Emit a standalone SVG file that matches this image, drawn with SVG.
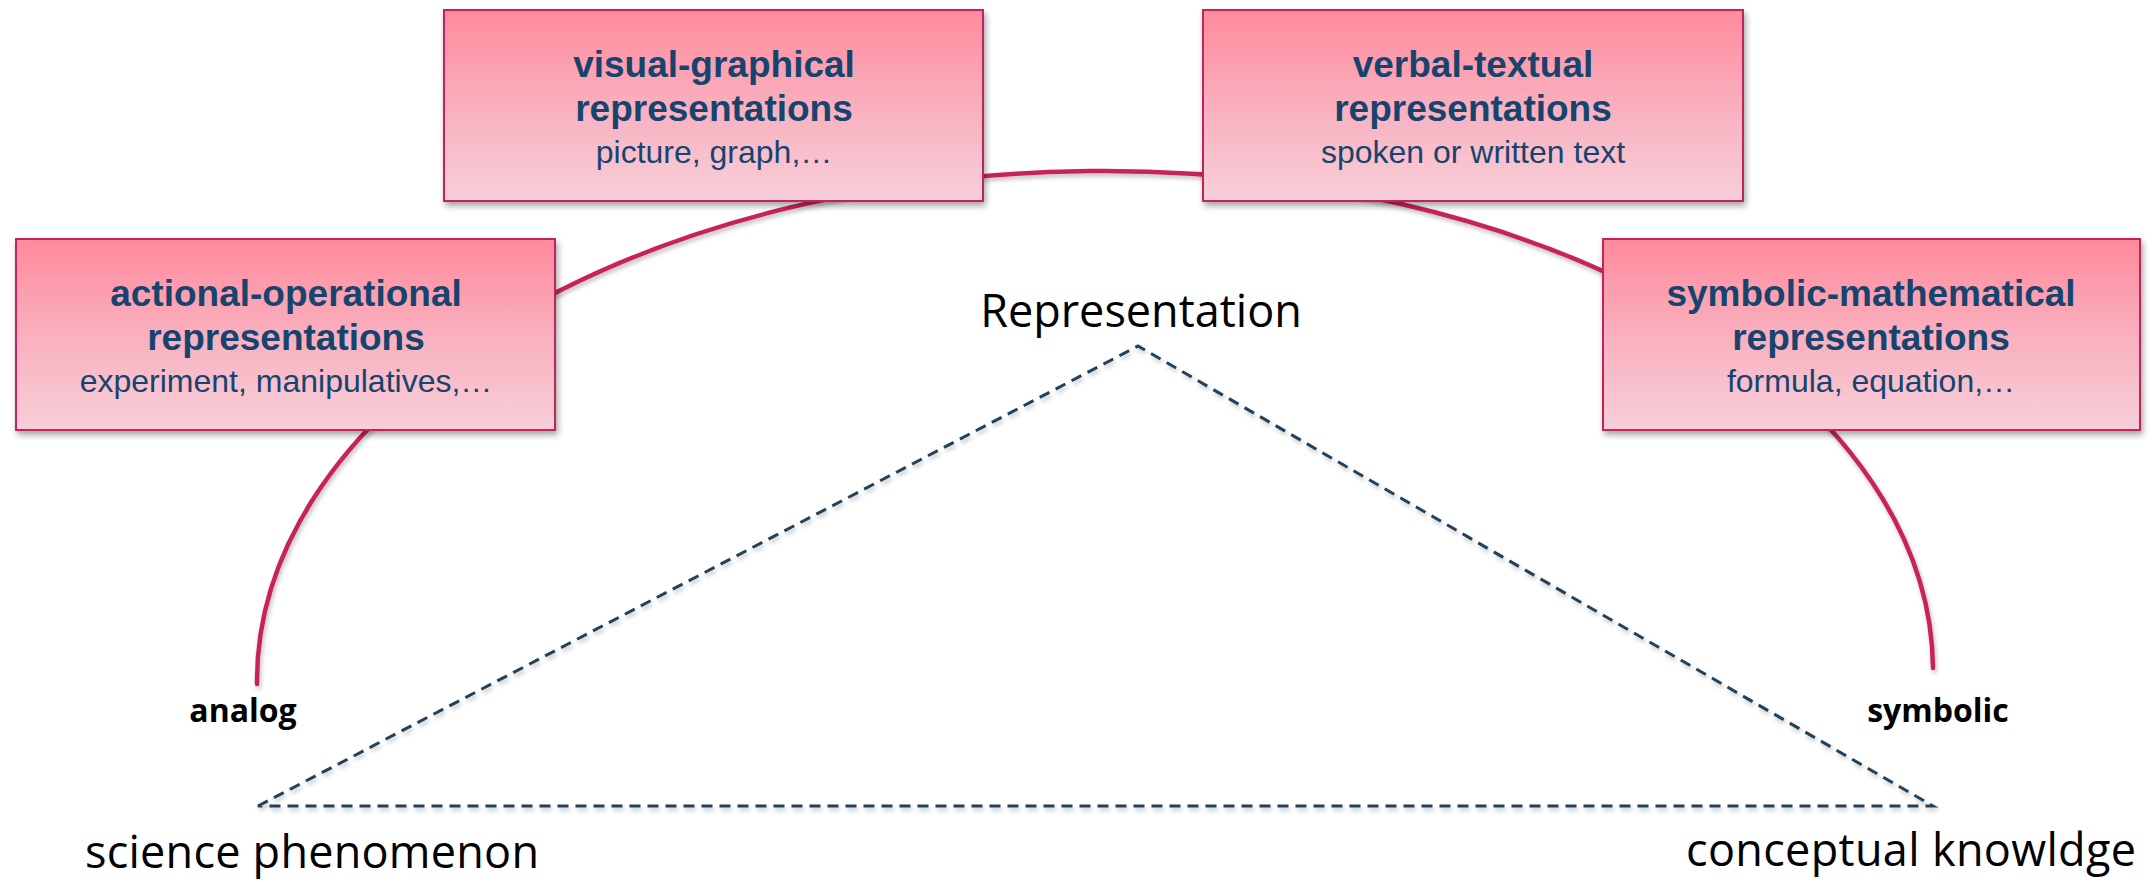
<svg xmlns="http://www.w3.org/2000/svg" width="2155" height="882" viewBox="0 0 2155 882">
  <defs>
    <linearGradient id="boxFill" x1="0" y1="0" x2="0" y2="1">
      <stop offset="0" stop-color="#FF8A9C"/>
      <stop offset="0.5" stop-color="#F9AFBE"/>
      <stop offset="1" stop-color="#F7CFD9"/>
    </linearGradient>
    <filter id="boxShadow" x="-5%" y="-10%" width="112%" height="125%">
      <feDropShadow dx="2" dy="4" stdDeviation="3" flood-color="#000" flood-opacity="0.35"/>
    </filter>
    <filter id="lineShadow" x="-5%" y="-5%" width="110%" height="115%">
      <feDropShadow dx="1.5" dy="3" stdDeviation="2" flood-color="#000" flood-opacity="0.25"/>
    </filter>
    <style>
      .box { fill: url(#boxFill); stroke: #C4245A; stroke-width: 2; filter: url(#boxShadow); }
      .title { font-family: "Liberation Sans", Arial, sans-serif; font-weight: bold; font-size: 37px; fill: #17446E; text-anchor: middle; }
      .sub { font-family: "Liberation Sans", Arial, sans-serif; font-size: 32px; fill: #17446E; text-anchor: middle; }
      .arc { fill: none; stroke: #C8235A; stroke-width: 4.5; stroke-linecap: round; filter: url(#lineShadow); }
      .dash { fill: none; stroke: #24435A; stroke-width: 3; stroke-dasharray: 11 7; filter: url(#lineShadow); }
      .big { font-family: "Open Sans", "Noto Sans", sans-serif; font-size: 45px; fill: #000; }
      .pole { font-family: "Open Sans", "Noto Sans", sans-serif; font-weight: bold; font-size: 32px; fill: #000; }
    </style>
  </defs>

  <rect width="2155" height="882" fill="#FFFFFF"/>

  <!-- connectors: the representation arc and the dashed triangle -->
  <g id="connectors">
    <path class="arc" d="M 257 684 A 838 505 -0.55 0 1 1933 668"/>
    <path class="dash" d="M 258 806 L 1138 346 L 1933 806 Z"/>
  </g>

  <g id="node-actional">
    <rect class="box" x="16" y="239" width="539" height="191"/>
    <text class="title" x="286" y="306">actional-operational</text>
    <text class="title" x="286" y="350">representations</text>
    <text class="sub" x="286" y="392">experiment, manipulatives,…</text>
  </g>

  <g id="node-visual">
    <rect class="box" x="444" y="10" width="539" height="191"/>
    <text class="title" x="714" y="77">visual-graphical</text>
    <text class="title" x="714" y="121">representations</text>
    <text class="sub" x="714" y="163">picture, graph,…</text>
  </g>

  <g id="node-verbal">
    <rect class="box" x="1203" y="10" width="540" height="191"/>
    <text class="title" x="1473" y="77">verbal-textual</text>
    <text class="title" x="1473" y="121">representations</text>
    <text class="sub" x="1473" y="163">spoken or written text</text>
  </g>

  <g id="node-symbolic">
    <rect class="box" x="1603" y="239" width="537" height="191"/>
    <text class="title" x="1871" y="306">symbolic-mathematical</text>
    <text class="title" x="1871" y="350">representations</text>
    <text class="sub" x="1871" y="392">formula, equation,…</text>
  </g>

  <g id="node-representation">
    <text class="big" x="1141" y="327" text-anchor="middle">Representation</text>
  </g>

  <g id="node-analog">
    <text class="pole" x="243" y="722" text-anchor="middle">analog</text>
  </g>

  <g id="node-symbolic-pole">
    <text class="pole" x="1938" y="722" text-anchor="middle">symbolic</text>
  </g>

  <g id="node-phenomenon">
    <text class="big" x="85" y="868" textLength="454">science phenomenon</text>
  </g>

  <g id="node-knowledge">
    <text class="big" x="1686" y="866" textLength="450">conceptual knowldge</text>
  </g>
</svg>
